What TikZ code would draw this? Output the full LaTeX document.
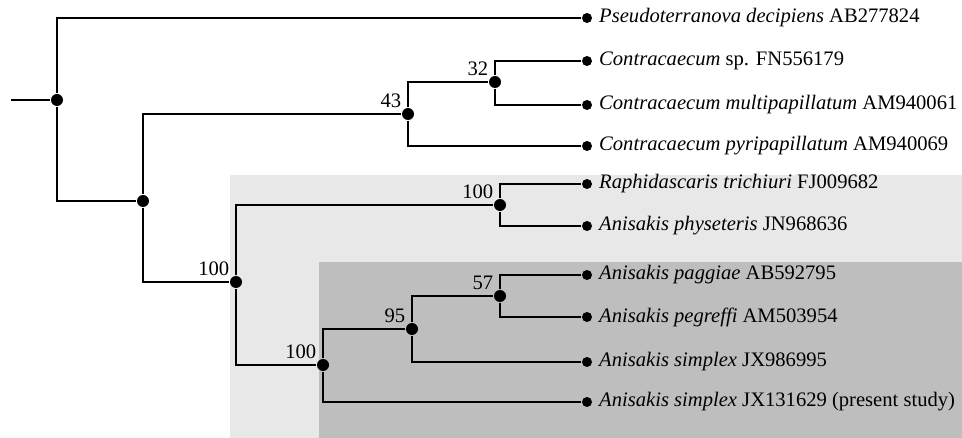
\documentclass[tikz,border=0pt]{standalone}
\usepackage{fontspec}
\setmainfont{Liberation Serif}
\usepackage{xcolor}
\definecolor{cladelight}{HTML}{E8E8E8}
\definecolor{cladedark}{HTML}{BEBEBE}
\tikzset{
  split/.style={circle,fill,inner sep=0pt,minimum size=12pt},
  tip/.style={circle,fill,inner sep=0pt,minimum size=10pt},
  taxon/.style={right,inner sep=0pt,xshift=6pt},
  boot/.style={above left,inner sep=1.5pt}
}

\begin{document}
\begin{tikzpicture}[x=1pt,y=-1pt,font=\fontsize{20.6}{23}\selectfont,line width=1.2pt]
\useasboundingbox (0,0) rectangle (962,438);
\fill[cladelight] (230,175) rectangle (962,438);
\fill[cladedark] (319,262) rectangle (962,438);
\coordinate (root) at (11,100);
\node[split] (n0) at (57,100) {};
\node[split] (n1) at (143,201) {};
\node[split] (n2) at (408,114) {};
\node[split] (n3) at (495,82) {};
\node[split] (n4) at (236,282) {};
\node[split] (n5) at (500,205) {};
\node[split] (n6) at (323,365) {};
\node[split] (n7) at (412,329) {};
\node[split] (n8) at (500,296) {};
\node[boot] at (n2.north west) {43};
\node[boot] at (n3.north west) {32};
\node[boot] at (n4.north west) {100};
\node[boot] at (n5.north west) {100};
\node[boot] at (n6.north west) {100};
\node[boot] at (n7.north west) {95};
\node[boot] at (n8.north west) {57};
\node[tip] (l1) at (587,18) {};
\node[tip] (l2) at (587,61) {};
\node[tip] (l3) at (587,105) {};
\node[tip] (l4) at (587,146) {};
\node[tip] (l5) at (587,184) {};
\node[tip] (l6) at (587,226) {};
\node[tip] (l7) at (587,275) {};
\node[tip] (l8) at (587,317) {};
\node[tip] (l9) at (587,362) {};
\node[tip] (l10) at (587,402) {};
\node[taxon] at (l1.east) {\textit{Pseudoterranova decipiens} AB277824};
\node[taxon] at (l2.east) {\textit{Contracaecum} sp. FN556179};
\node[taxon] at (l3.east) {\textit{Contracaecum multipapillatum} AM940061};
\node[taxon] at (l4.east) {\textit{Contracaecum pyripapillatum} AM940069};
\node[taxon] at (l5.east) {\textit{Raphidascaris trichiuri} FJ009682};
\node[taxon] at (l6.east) {\textit{Anisakis physeteris} JN968636};
\node[taxon] at (l7.east) {\textit{Anisakis paggiae} AB592795};
\node[taxon] at (l8.east) {\textit{Anisakis pegreffi} AM503954};
\node[taxon] at (l9.east) {\textit{Anisakis simplex} JX986995};
\node[taxon] at (l10.east) {\textit{Anisakis simplex} JX131629 (present study)};
\draw (root) -- (n0);
\draw (n0) |- (l1);
\draw (n0) |- (n1);
\draw (n1) |- (n2);
\draw (n1) |- (n4);
\draw (n2) |- (n3);
\draw (n2) |- (l4);
\draw (n3) |- (l2);
\draw (n3) |- (l3);
\draw (n4) |- (n5);
\draw (n4) |- (n6);
\draw (n5) |- (l5);
\draw (n5) |- (l6);
\draw (n6) |- (n7);
\draw (n6) |- (l10);
\draw (n7) |- (n8);
\draw (n7) |- (l9);
\draw (n8) |- (l7);
\draw (n8) |- (l8);
\end{tikzpicture}
\end{document}
